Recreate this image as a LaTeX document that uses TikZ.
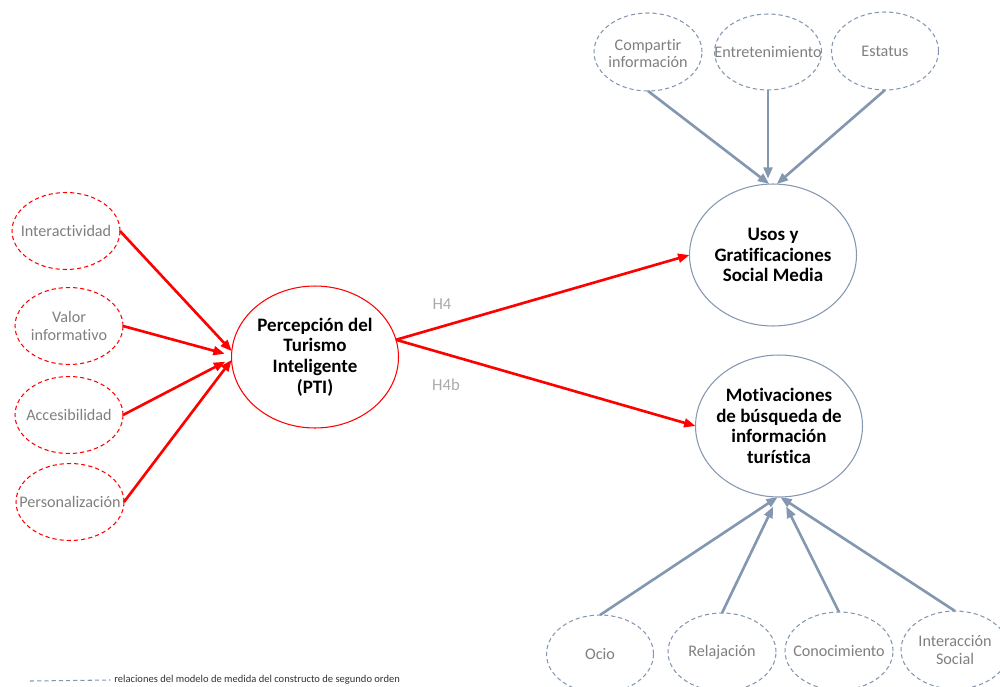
\documentclass[tikz,border=0pt]{standalone}
\usepackage{fontspec}
\setmainfont{Carlito}[Ligatures=NoCommon]
\usetikzlibrary{shapes.geometric,arrows.meta}
\definecolor{pred}{RGB}{255,0,0}
\definecolor{slate}{RGB}{132,151,176}
\definecolor{txtgray}{RGB}{127,127,127}
\definecolor{hgray}{RGB}{170,170,170}
\begin{document}
\begin{tikzpicture}[x=0.02cm,y=-0.02cm,
  lv/.style={ellipse,inner sep=0pt,outer sep=0pt,line width=0.6pt},
  dimred/.style={lv,draw=pred,dash pattern=on 2.4pt off 1.7pt,minimum width=2.16cm,minimum height=1.54cm},
  dimblue/.style={lv,draw=slate,dash pattern=on 2.4pt off 1.7pt,minimum width=2.16cm,minimum height=1.56cm},
  construct/.style={lv,draw=#1,minimum width=3.34cm,minimum height=2.84cm},
  smalltxt/.style={font=\fontsize{9.2}{9.8}\selectfont,text=txtgray,align=center,inner sep=0pt},
  bigtxt/.style={font=\fontsize{10.8}{11.8}\selectfont\bfseries,align=center,inner sep=0pt},
  redarrow/.style={draw=pred,line width=1.5pt,-{Triangle[length=6.5pt,width=5pt]}},
  bluearrow/.style={draw=slate,line width=1.5pt,-{Triangle[length=6.5pt,width=5pt]}},
  hyp/.style={font=\fontsize{9.5}{10}\selectfont,text=hgray,inner sep=0pt}]
\useasboundingbox (0,0) rectangle (1000,686);

% first-order dimensions of PTI
\node[dimred,label={[smalltxt]center:Interactividad}] (inter) at (66,231) {};
\node[dimred,label={[smalltxt]center:Valor\\informativo}] (valor) at (69,326) {};
\node[dimred,label={[smalltxt]center:Accesibilidad}] (acces) at (69,415) {};
\node[dimred,label={[smalltxt]center:Personalización}] (perso) at (70,502) {};

% main constructs
\node[construct=pred,label={[bigtxt]center:Percepción del\\Turismo\\Inteligente\\(PTI)}] (pti) at (315,357) {};
\node[construct=slate,label={[bigtxt]center:Usos y\\Gratificaciones\\Social Media}] (usos) at (773,255) {};
\node[construct=slate,label={[bigtxt]center:Motivaciones\\de búsqueda de\\información\\turística}] (motiv) at (779,426) {};

% dimensions of uses and gratifications
\node[dimblue,label={[smalltxt,yshift=-1pt]center:Compartir\\información}] (comp) at (648,52) {};
\node[dimblue,minimum width=2.14cm,minimum height=1.52cm,label={[smalltxt]center:Entretenimiento}] (entre) at (768,52) {};
\node[dimblue,minimum width=2.14cm,label={[smalltxt]center:Estatus}] (estat) at (885,51) {};

% dimensions of information search motivations
\node[dimblue,minimum width=2.14cm,label={[smalltxt]center:Ocio}] (ocio) at (600,654) {};
\node[dimblue,label={[smalltxt]center:Relajación}] (relaj) at (722,652) {};
\node[dimblue,label={[smalltxt]center:Conocimiento}] (conoc) at (839,651) {};
\node[dimblue,label={[smalltxt]center:Interacción\\Social}] (inters) at (955,650) {};

% formative paths into PTI
\draw[redarrow] (inter.east) -- (pti.176);
\draw[redarrow,shorten >=4pt] (valor.east) -- (pti.179);
\draw[redarrow,shorten >=4pt] (acces.east) -- (pti.181);
\draw[redarrow] (perso.east) -- (pti.182);

% hypotheses
\draw[redarrow] (pti.12) -- (usos.west);
\draw[redarrow] (pti.12) -- (motiv.west);
\node[hyp] (h4) at (442,304) {H4};
\node[hyp] (h4b) at (446,385) {H4b};

% second-order measurement paths
\draw[bluearrow] (comp.south) -- (usos.93);
\draw[bluearrow,shorten >=3pt] (entre.south) -- (entre.south |- usos.north);
\draw[bluearrow] (estat.south) -- (usos.87);
\draw[bluearrow] (ocio.north) -- (motiv.269);
\draw[bluearrow,shorten >=6pt] (relaj.north) -- (motiv.269);
\draw[bluearrow,shorten >=6pt] (conoc.north) -- (motiv.272);
\draw[bluearrow] (inters.north) -- (motiv.271);

% legend
\coordinate (lg) at (30,681);
\node[anchor=west,inner sep=0pt,font=\fontsize{6}{7}\selectfont,text=black!80] (lgtxt) at (114,680) {relaciones del modelo de medida del constructo de segundo orden};
\draw[slate,line width=0.6pt,dash pattern=on 2.4pt off 1.7pt] (lg) -- ([xshift=-2pt]lgtxt.west);
\end{tikzpicture}
\end{document}
